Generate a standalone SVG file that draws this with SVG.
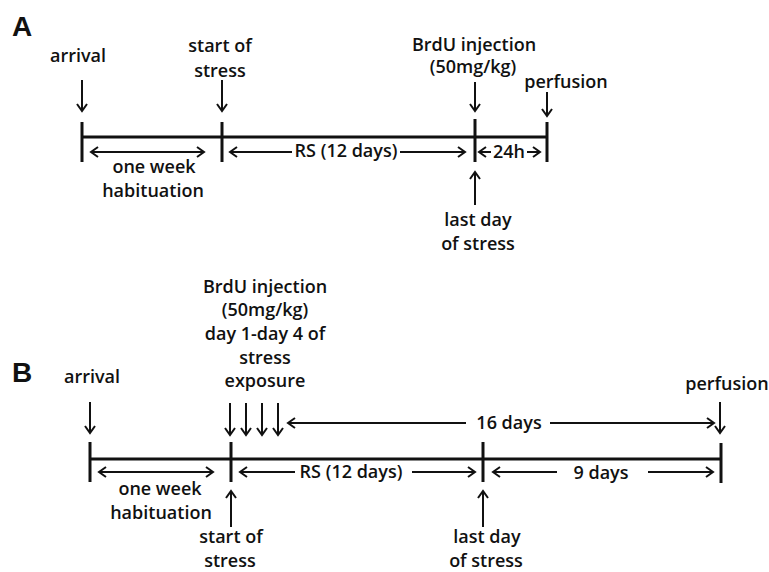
<svg xmlns="http://www.w3.org/2000/svg" width="769" height="572" viewBox="0 0 769 572">
<defs>
<marker id="ah" markerUnits="userSpaceOnUse" markerWidth="12" markerHeight="12" viewBox="-9 -6 10 12" refX="0" refY="0" orient="auto">
<path d="M-7,-5 L0,0 L-7,5" fill="none" stroke="#111" stroke-width="2"/>
</marker>
<marker id="ahs" markerUnits="userSpaceOnUse" markerWidth="12" markerHeight="12" viewBox="-9 -6 10 12" refX="0" refY="0" orient="auto-start-reverse">
<path d="M-7,-5 L0,0 L-7,5" fill="none" stroke="#111" stroke-width="2"/>
</marker>
</defs>
<style>
text{font-family:"Open Sans","Liberation Sans",sans-serif;font-size:18px;font-weight:600;fill:#111;text-anchor:middle}
.pl{font-family:"Liberation Sans",Arial,sans-serif;font-size:28px;font-weight:bold;text-anchor:start}
.tl{stroke:#111;stroke-width:3;fill:none}
.tk{stroke:#111;stroke-width:3;fill:none}
.ar{stroke:#111;stroke-width:2;fill:none;marker-end:url(#ah)}
.da{stroke:#111;stroke-width:2;fill:none;marker-start:url(#ahs);marker-end:url(#ah)}
</style>
<rect width="769" height="572" fill="#fff"/>

<g id="panelA">
<text class="pl" x="12" y="36">A</text>
<g id="a-timeline">
<line class="tl" x1="82" y1="137" x2="547" y2="137"/>
<line class="tk" x1="82" y1="122" x2="82" y2="162"/>
<line class="tk" x1="222" y1="122" x2="222" y2="162"/>
<line class="tk" x1="475" y1="119" x2="475" y2="162"/>
<line class="tk" x1="547" y1="122" x2="547" y2="162"/>
</g>
<g id="a-arrival"><text x="78" y="62">arrival</text></g>
<g id="a-start"><text x="220" y="52">start of</text><text x="220" y="77">stress</text></g>
<g id="a-brdu"><text x="474" y="51">BrdU injection</text><text x="473" y="73">(50mg/kg)</text></g>
<g id="a-perfusion"><text x="566" y="88">perfusion</text></g>
<g id="a-week"><text x="154" y="173">one week</text><text x="153" y="197">habituation</text></g>
<g id="a-rs"><text x="346" y="157">RS (12 days)</text></g>
<g id="a-24h"><text x="509" y="158">24h</text></g>
<g id="a-last"><text x="478" y="226">last day</text><text x="478" y="250">of stress</text></g>
</g>

<g id="panelB">
<text class="pl" x="12" y="382">B</text>
<g id="b-timeline">
<line class="tl" x1="90" y1="459" x2="721" y2="459"/>
<line class="tk" x1="90" y1="442" x2="90" y2="482"/>
<line class="tk" x1="231" y1="442" x2="231" y2="482"/>
<line class="tk" x1="483" y1="442" x2="483" y2="482"/>
<line class="tk" x1="721" y1="443" x2="721" y2="483"/>
</g>
<g id="b-arrival"><text x="92" y="383">arrival</text></g>
<g id="b-brdu">
<text x="265" y="293">BrdU injection</text>
<text x="265" y="316">(50mg/kg)</text>
<text x="265" y="340">day 1-day 4 of</text>
<text x="265" y="364">stress</text>
<text x="265" y="387">exposure</text>
</g>
<g id="b-perfusion"><text x="727" y="390">perfusion</text></g>
<g id="b-16"><text x="509" y="429">16 days</text></g>
<g id="b-week"><text x="160" y="495">one week</text><text x="161" y="519">habituation</text></g>
<g id="b-rs"><text x="351" y="478">RS (12 days)</text></g>
<g id="b-9"><text x="601" y="479">9 days</text></g>
<g id="b-start"><text x="231" y="543">start of</text><text x="230" y="567">stress</text></g>
<g id="b-last"><text x="487" y="543">last day</text><text x="486" y="567">of stress</text></g>
</g>

<g id="connectors">
<line class="ar" x1="82" y1="80" x2="82" y2="111"/>
<line class="ar" x1="222" y1="80" x2="222" y2="111"/>
<line class="ar" x1="475" y1="82" x2="475" y2="111"/>
<line class="ar" x1="547" y1="92" x2="547" y2="116"/>
<line class="da" x1="91" y1="152" x2="204" y2="152"/>
<line class="ar" x1="292" y1="152" x2="230" y2="152"/>
<line class="ar" x1="400" y1="152" x2="465" y2="152"/>
<line class="ar" x1="491" y1="152" x2="479" y2="152"/>
<line class="ar" x1="527" y1="152" x2="540" y2="152"/>
<line class="ar" x1="475" y1="205" x2="475" y2="172"/>

<line class="ar" x1="90" y1="402" x2="90" y2="433"/>
<line class="ar" x1="230" y1="403" x2="230" y2="435"/>
<line class="ar" x1="246" y1="403" x2="246" y2="435"/>
<line class="ar" x1="262" y1="403" x2="262" y2="435"/>
<line class="ar" x1="278" y1="403" x2="278" y2="435"/>
<line class="ar" x1="466" y1="423" x2="288" y2="423"/>
<line class="ar" x1="550" y1="423" x2="714" y2="423"/>
<line class="ar" x1="720" y1="402" x2="720" y2="433"/>
<line class="da" x1="99" y1="472" x2="213" y2="472"/>
<line class="ar" x1="295" y1="472" x2="240" y2="472"/>
<line class="ar" x1="412" y1="472" x2="475" y2="472"/>
<line class="ar" x1="557" y1="472" x2="493" y2="472"/>
<line class="ar" x1="648" y1="472" x2="713" y2="472"/>
<line class="ar" x1="231" y1="527" x2="231" y2="491"/>
<line class="ar" x1="483" y1="527" x2="483" y2="491"/>
</g>
</svg>
